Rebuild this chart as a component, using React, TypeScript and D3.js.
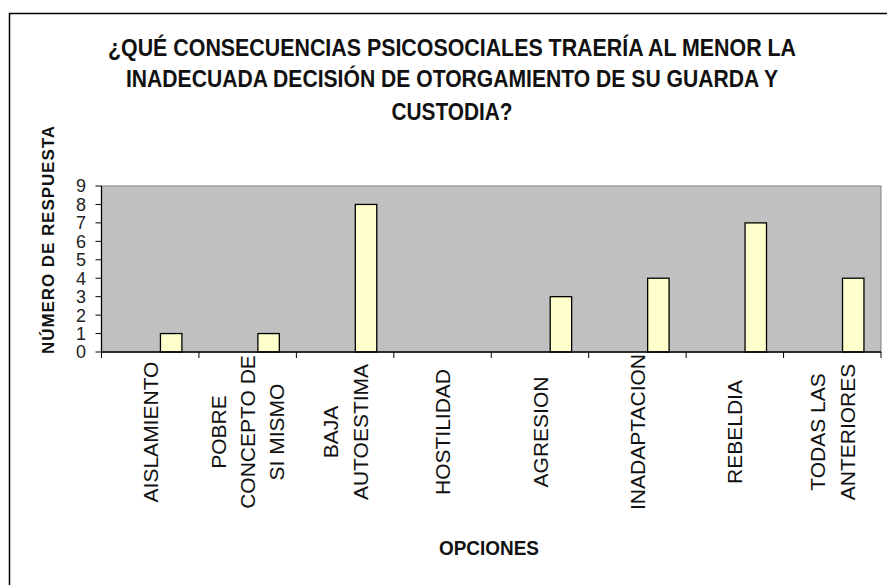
import React from "react";
import * as d3 from "d3";

const categories: string[][] = [
  ["AISLAMIENTO"],
  ["POBRE", "CONCEPTO DE", "SI MISMO"],
  ["BAJA", "AUTOESTIMA"],
  ["HOSTILIDAD"],
  ["AGRESION"],
  ["INADAPTACION"],
  ["REBELDIA"],
  ["TODAS LAS", "ANTERIORES"],
];
const values: number[] = [1, 1, 8, 0, 3, 4, 7, 4];
const yTicks: number[] = [0, 1, 2, 3, 4, 5, 6, 7, 8, 9];
const titleLines: string[] = [
  "¿QUÉ CONSECUENCIAS PSICOSOCIALES TRAERÍA AL MENOR LA",
  "INADECUADA DECISIÓN DE OTORGAMIENTO DE SU GUARDA Y",
  "CUSTODIA?",
];
const yAxisTitle = "NÚMERO DE RESPUESTA";
const xAxisTitle = "OPCIONES";

export default function App() {
  const W = 887;
  const H = 585;
  const left = 101.5;
  const right = 881;
  const top = 186;
  const bottom = 352;

  const x = d3
    .scaleBand<number>()
    .domain(d3.range(categories.length))
    .range([left, right])
    .paddingInner(0)
    .paddingOuter(0);
  const y = d3.scaleLinear().domain([0, 9]).range([bottom, top]);
  const bw = x.bandwidth();

  const titleWidths = [688, 652, 121];
  const titleBaselines = [56, 87, 120];
  const titleCx = 452;

  const sans = "'Liberation Sans', Arial, sans-serif";
  const narrow = "'Liberation Sans Narrow', 'Liberation Sans', Arial, sans-serif";

  return (
    <svg
      width={W}
      height={H}
      style={{ position: "absolute", left: 0, top: 0, background: "#fff" }}
    >
      <rect x={0} y={0} width={W} height={H} fill="#fff" />
      {/* outer frame */}
      <rect x={9.5} y={13.5} width={900} height={620} fill="none" stroke="#000" strokeWidth={1.5} />

      {/* title */}
      {titleLines.map((t, i) => (
        <text
          key={i}
          x={titleCx}
          y={titleBaselines[i]}
          textAnchor="middle"
          fontFamily={narrow}
          fontWeight="bold"
          fontSize={23}
          textLength={titleWidths[i]}
          lengthAdjust="spacingAndGlyphs"
          fill="#111"
        >
          {t}
        </text>
      ))}

      {/* plot area */}
      <rect x={left} y={top} width={right - left} height={bottom - top} fill="#c0c0c0" stroke="#808080" strokeWidth={1} />

      {/* bars */}
      {values.map((v, i) => (
        <rect
          key={i}
          x={(x(i) as number) + bw * 0.605}
          y={y(v)}
          width={bw * 0.22}
          height={bottom - y(v)}
          fill="#ffffcc"
          stroke="#000"
          strokeWidth={1.3}
          display={v > 0 ? undefined : "none"}
        />
      ))}

      {/* y axis */}
      <line x1={left} x2={left} y1={top} y2={bottom} stroke="#000" strokeWidth={1.3} />
      {yTicks.map((t) => (
        <g key={t}>
          <line x1={left - 6} x2={left} y1={y(t)} y2={y(t)} stroke="#000" strokeWidth={1} />
          <text
            x={86}
            y={y(t)}
            dy="0.36em"
            textAnchor="end"
            fontFamily={sans}
            fontSize={18}
            fill="#222"
          >
            {t}
          </text>
        </g>
      ))}

      {/* x axis */}
      <line x1={left} x2={right} y1={bottom} y2={bottom} stroke="#000" strokeWidth={1.3} />
      {d3.range(categories.length + 1).map((i) => {
        const xx = i < categories.length ? (x(i) as number) : right;
        return <line key={i} x1={xx} x2={xx} y1={bottom} y2={bottom + 6} stroke="#000" strokeWidth={1} />;
      })}

      {categories.map((lines, i) => {
        const cx = (x(i) as number) + bw / 2;
        const n = lines.length;
        const sp = n === 3 ? 29 : 30;
        return lines.map((ln, j) => {
          const lx = cx + (j - (n - 1) / 2) * sp;
          return (
            <text
              key={i + "-" + j}
              transform={`translate(${lx},432) rotate(-90)`}
              dy="0.36em"
              textAnchor="middle"
              fontFamily={sans}
              fontSize={21}
              fill="#111"
            >
              {ln}
            </text>
          );
        });
      })}

      {/* axis titles */}
      <text
        transform={`translate(48,240) rotate(-90)`}
        dy="0.36em"
        textAnchor="middle"
        fontFamily={sans}
        fontWeight="bold"
        fontSize={17}
        textLength={228}
        lengthAdjust="spacing"
        fill="#111"
      >
        {yAxisTitle}
      </text>
      <text
        x={489}
        y={555}
        textAnchor="middle"
        fontFamily={narrow}
        fontWeight="bold"
        fontSize={20}
        textLength={100}
        lengthAdjust="spacingAndGlyphs"
        fill="#111"
      >
        {xAxisTitle}
      </text>
    </svg>
  );
}
